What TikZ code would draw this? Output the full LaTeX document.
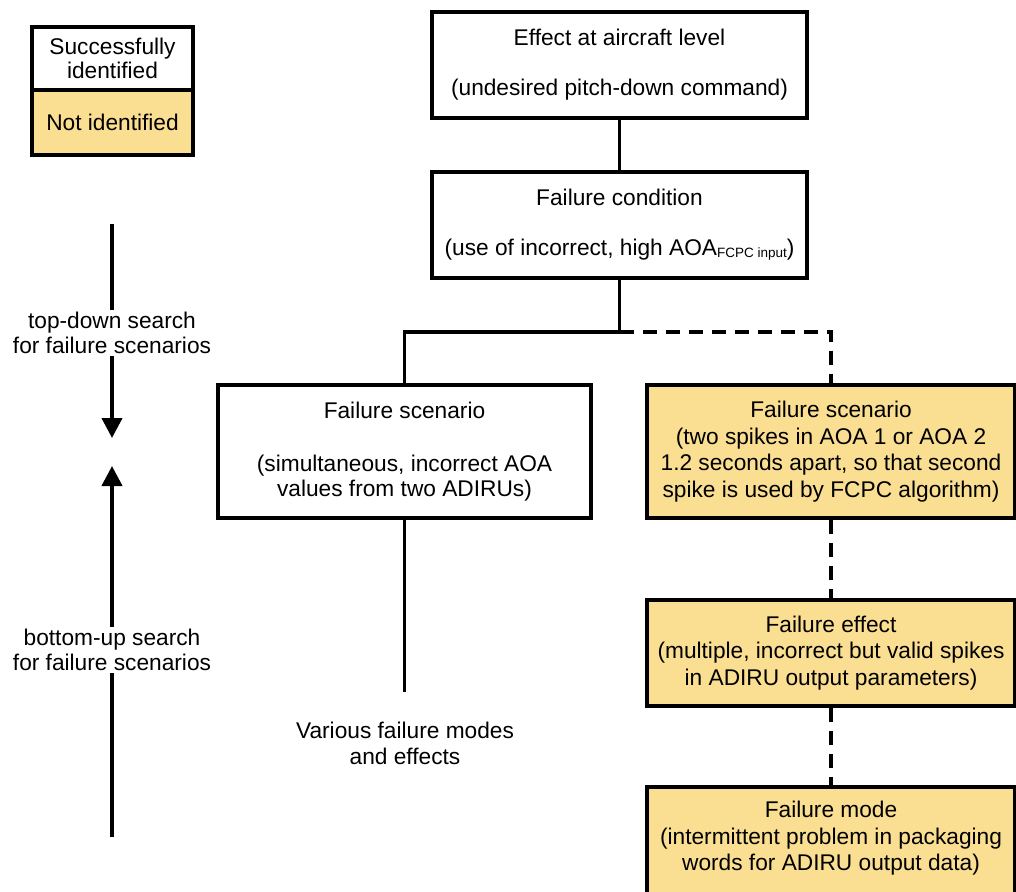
\documentclass[tikz,border=0pt]{standalone}
\usepackage{fontspec}
\setmainfont{Liberation Sans}
\usetikzlibrary{arrows.meta}
\definecolor{notid}{RGB}{250,222,145}
\newcommand{\fsz}{\fontsize{22.7}{26.5}\selectfont}
\newcommand{\subfcpc}{\raisebox{-1.5pt}{\fontsize{13.5}{14}\selectfont FCPC input}}
\tikzset{
  x=1pt, y=-1pt,
  box/.style={draw, line width=3.7pt, align=center, font=\fsz, inner sep=0pt},
  yellowbox/.style={box, fill=notid},
  plain/.style={align=center, font=\fsz, inner sep=2pt},
  conn/.style={line width=3.7pt},
  dconn/.style={line width=3.7pt, dash pattern=on 14pt off 9pt},
  searcharrow/.style={line width=4pt, -{Triangle[length=20pt,width=20pt]}},
  searchline/.style={line width=4pt}
}
\begin{document}
\begin{tikzpicture}
\useasboundingbox (0,0) rectangle (1016,891);
\fill[white] (0,0) rectangle (1016,891);

% legend
\node[box, minimum width=161pt, minimum height=63pt] (legA) at (112.5,58.5) {Successfully\\[-2.5pt]identified};
\node[yellowbox, minimum width=161pt, minimum height=65pt] (legB) at (112.5,122.5) {Not identified};

% left search arrows
\coordinate (tdstart) at (112,224);
\node[plain] (td) at (112,333) {top-down search\\[-2pt]for failure scenarios};
\coordinate (tdend) at (112,438);
\draw[searchline] (tdstart) -- (td.north);
\draw[searcharrow] (td.south) -- (tdend);

\coordinate (buend) at (112,466);
\node[plain] (bu) at (112,650) {bottom-up search\\[-2pt]for failure scenarios};
\coordinate (bustart) at (112,837);
\draw[searcharrow] (bu.north) -- (buend);
\draw[searchline] (bustart) -- (bu.south);

% main boxes
\node[box, minimum width=375pt, minimum height=106pt] (top) at (619.5,65)
  {Effect at aircraft level\\[23.5pt](undesired pitch-down command)};
\node[box, minimum width=375pt, minimum height=106pt] (cond) at (619.5,225)
  {Failure condition\\[23.5pt](use of incorrect, high AOA\subfcpc)};
\node[box, minimum width=373pt, minimum height=133pt] (lscen) at (404.5,451.5)
  {Failure scenario\\[26.5pt](simultaneous, incorrect AOA\\[-1.5pt]values from two ADIRUs)};
\node[yellowbox, minimum width=368pt, minimum height=133pt] (rscen) at (831,451.5)
  {Failure scenario\\(two spikes in AOA 1 or AOA 2\\1.2 seconds apart, so that second\\spike is used by FCPC algorithm)};
\node[yellowbox, minimum width=368pt, minimum height=106pt] (effect) at (831,653)
  {Failure effect\\(multiple, incorrect but valid spikes\\in ADIRU output parameters)};
\node[yellowbox, minimum width=368pt, minimum height=118pt] (mode) at (831,846) {};
\node[plain] (modetext) at (831,838.5)
  {Failure mode\\(intermittent problem in packaging\\words for ADIRU output data)};

\node[plain] (various) at (405,743.5) {Various failure modes\\and effects};

% connectors
\coordinate (split) at (619.5,332);
\coordinate (lsplit) at (404.5,332);
\coordinate (rsplit) at (831,332);
\coordinate (vend) at (404.5,692);
\draw[conn] (top) -- (cond);
\draw[conn] (cond.south) -- (split) -- (lsplit) -- (lscen.north);
\draw[dconn] (split) -- (rsplit) -- (rscen.north);
\draw[conn] (lscen.south) -- (vend);
\draw[dconn] (rscen) -- (effect);
\draw[dconn] (effect) -- (mode);
\end{tikzpicture}
\end{document}
